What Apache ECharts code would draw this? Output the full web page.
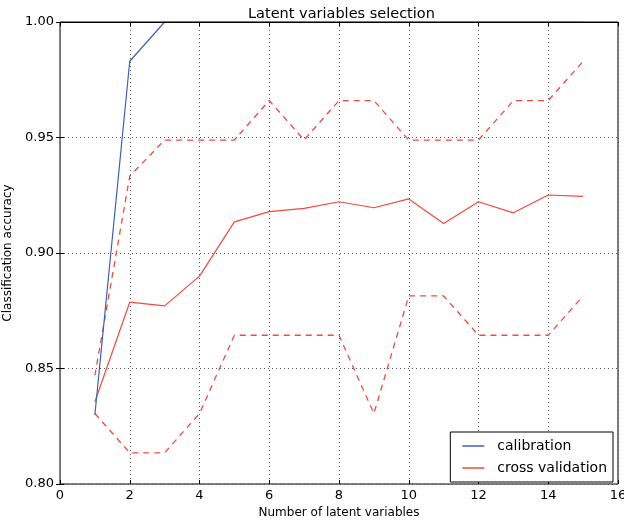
<!DOCTYPE html>
<html>
<head>
<meta charset="utf-8">
<script src="https://cdn.jsdelivr.net/npm/echarts@6/dist/echarts.min.js"></script>
<style>
  html, body { margin: 0; padding: 0; background: #fff; }
  #chart { width: 624px; height: 520px; }
</style>
</head>
<body>
<div id="chart"></div>
<script>
// number of latent variables
const nLV = [1, 2, 3, 4, 5, 6, 7, 8, 9, 10, 11, 12, 13, 14, 15];
// calibration accuracy
const calibration = [0.830, 0.983, 1.0, 1.0, 1.0, 1.0, 1.0, 1.0, 1.0, 1.0, 1.0, 1.0, 1.0, 1.0, 1.0];
// cross validation mean, upper and lower band
const cvMean = [0.8356, 0.8787, 0.8771, 0.8900, 0.9135, 0.9179, 0.9193, 0.9222, 0.9196, 0.9234, 0.9128, 0.9222, 0.9174, 0.9251, 0.9245];
const cvUpper = [0.847, 0.9333, 0.9489, 0.9489, 0.9489, 0.9660, 0.9489, 0.9660, 0.9660, 0.9489, 0.9489, 0.9489, 0.9660, 0.9660, 0.9830];
const cvLower = [0.8305, 0.8135, 0.8135, 0.8305, 0.8644, 0.8644, 0.8644, 0.8644, 0.8305, 0.8814, 0.8814, 0.8644, 0.8644, 0.8644, 0.8814];

const blue = '#3b5fc0';
const red = '#f24a3c';

const pairs = (ys) => nLV.map((x, i) => [x, ys[i]]);

let myChart = echarts.init(document.getElementById('chart'));

const font = 'DejaVu Sans';
const gridLine = { show: true, lineStyle: { color: '#555', type: [1, 3], width: 1 } };
const tick = { show: true, inside: true, length: 4, lineStyle: { color: '#000' } };

myChart.setOption({
  animation: false,
  textStyle: { fontFamily: font },
  title: {
    text: 'Latent variables selection',
    left: 243, top: 2,
    textStyle: { fontFamily: font, fontSize: 14.5, fontWeight: 'normal', color: '#000' }
  },
  grid: {
    left: 60, top: 22, right: 6, bottom: 36,
    outerBoundsMode: 'none', containLabel: false,
    show: true, borderColor: '#000', borderWidth: 1
  },
  legend: {
    data: [{ name: 'calibration', icon: 'rect' }, { name: 'cross validation', icon: 'rect' }],
    orient: 'vertical',
    right: 11, bottom: 38,
    itemWidth: 22, itemHeight: 1.5, itemGap: 8,
    padding: [7, 6, 7, 12],
    borderColor: '#000', borderWidth: 1, borderRadius: 0,
    backgroundColor: '#fff',
    textStyle: { fontFamily: font, fontSize: 14, color: '#000', padding: [0, 0, 0, 8] }
  },
  xAxis: [{
    type: 'value', min: 0, max: 16, interval: 2,
    name: 'Number of latent variables', nameLocation: 'middle', nameGap: 20,
    nameTextStyle: { fontFamily: font, fontSize: 12, color: '#000' },
    axisLine: { show: false },
    axisTick: tick,
    axisLabel: { fontFamily: font, fontSize: 13, color: '#000', margin: 5 },
    splitLine: gridLine
  }, {
    type: 'value', min: 0, max: 16, interval: 2, position: 'top', z: 10,
    axisLine: { show: true, lineStyle: { color: '#000', width: 1 } },
    axisTick: tick,
    axisLabel: { show: false },
    splitLine: { show: false }
  }],
  yAxis: [{
    type: 'value', min: 0.8, max: 1.0, interval: 0.05,
    name: 'Classification accuracy', nameLocation: 'middle', nameGap: 42,
    nameTextStyle: { fontFamily: font, fontSize: 12, color: '#000' },
    axisLine: { show: false },
    axisTick: tick,
    axisLabel: { fontFamily: font, fontSize: 13, color: '#000', margin: 6,
      formatter: (v) => v.toFixed(2) },
    splitLine: gridLine
  }, {
    type: 'value', min: 0.8, max: 1.0, interval: 0.05, position: 'right',
    axisLine: { show: false },
    axisTick: tick,
    axisLabel: { show: false },
    splitLine: { show: false }
  }],
  series: [
    {
      name: 'calibration', type: 'line', data: pairs(calibration),
      symbol: 'none', lineStyle: { color: blue, width: 1.2 }, itemStyle: { color: blue }, z: 3
    },
    {
      name: 'cross validation', type: 'line', data: pairs(cvMean),
      symbol: 'none', lineStyle: { color: red, width: 1.2 }, itemStyle: { color: red }, z: 2
    },
    {
      name: 'cv upper', type: 'line', data: pairs(cvUpper),
      symbol: 'none', lineStyle: { color: red, width: 1.3, type: [6, 5] }, itemStyle: { color: red }, z: 2
    },
    {
      name: 'cv lower', type: 'line', data: pairs(cvLower),
      symbol: 'none', lineStyle: { color: red, width: 1.3, type: [6, 5] }, itemStyle: { color: red }, z: 2
    }
  ]
});
window.addEventListener('resize', function () { myChart.resize(); });
</script>
</body>
</html>
